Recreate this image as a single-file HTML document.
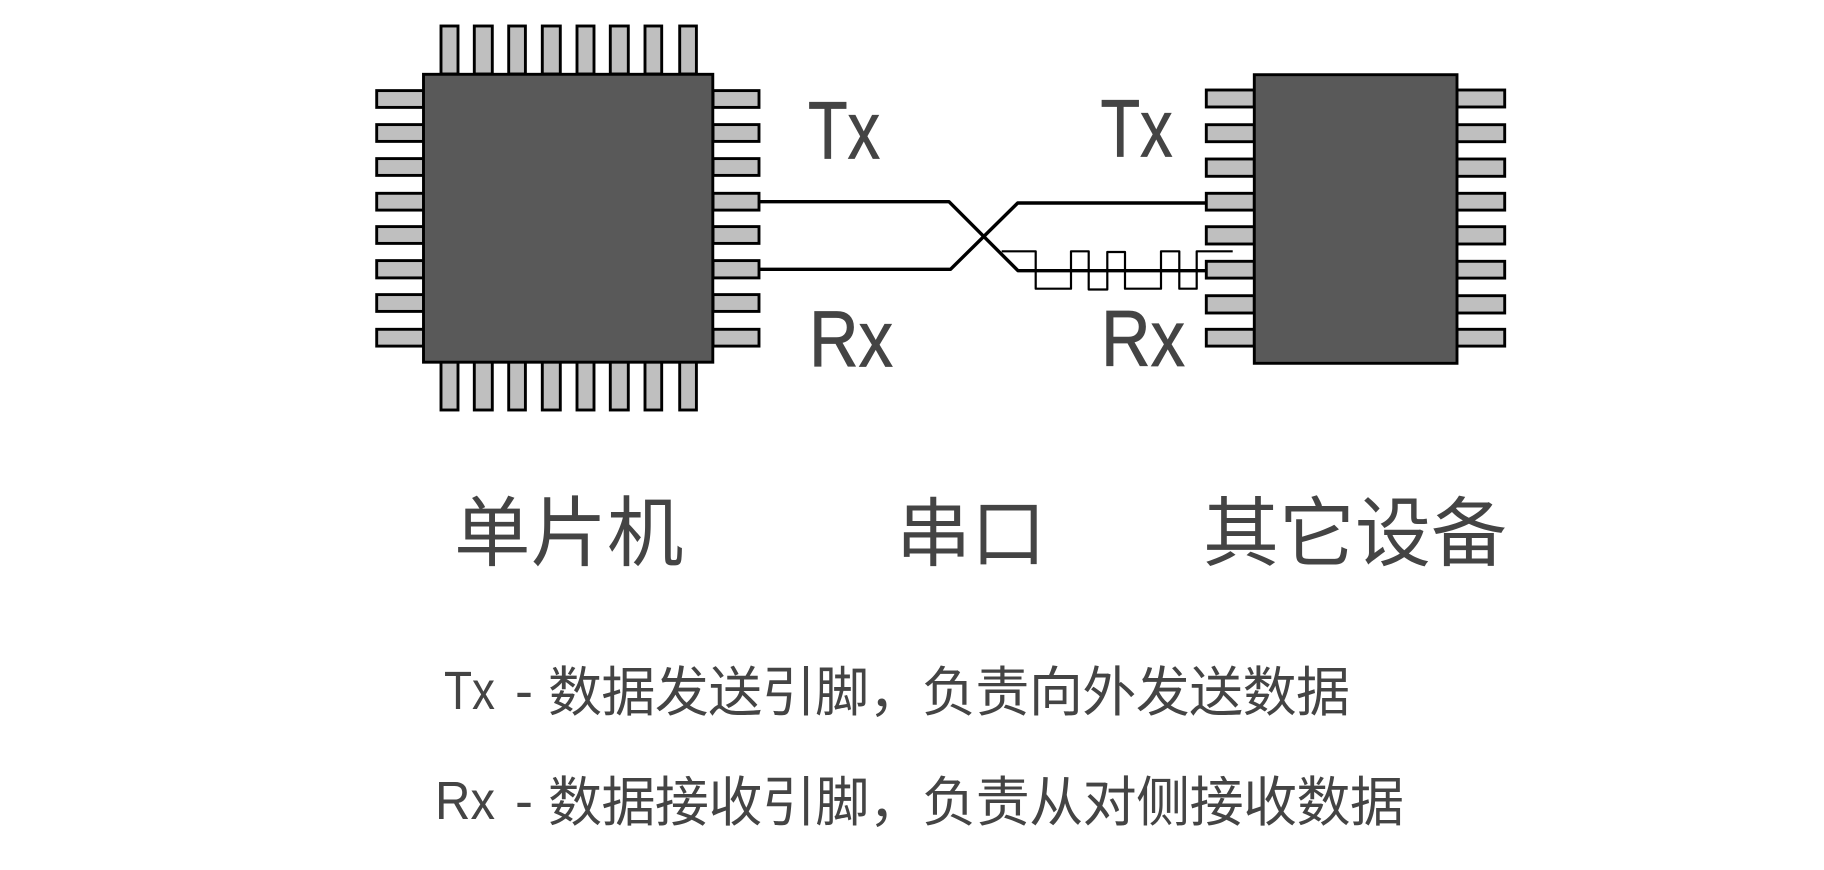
<!DOCTYPE html>
<html lang="zh"><head><meta charset="utf-8"><title>串口</title>
<style>html,body{margin:0;padding:0;background:#fff}svg{display:block}
.l{font-family:"Liberation Sans",sans-serif;fill:#444}
.c{font-family:"Liberation Sans","Noto Sans CJK SC",sans-serif;fill:#444}</style></head><body>
<svg width="1824" height="870" viewBox="0 0 1824 870" xmlns="http://www.w3.org/2000/svg">
<rect width="1824" height="870" fill="#fff"/>
<g fill="#bfbfbf" stroke="#000" stroke-width="2.9">
<rect x="441" y="26" width="17" height="48"/><rect x="474.3" y="26" width="18" height="48"/><rect x="508.7" y="26" width="16.7" height="48"/><rect x="542.3" y="26" width="18" height="48"/><rect x="577" y="26" width="17" height="48"/><rect x="610.3" y="26" width="18" height="48"/><rect x="645" y="26" width="16.7" height="48"/><rect x="679.7" y="26" width="16.7" height="48"/>
<rect x="441" y="362" width="17" height="48"/><rect x="474.3" y="362" width="18" height="48"/><rect x="508.7" y="362" width="16.7" height="48"/><rect x="542.3" y="362" width="18" height="48"/><rect x="577" y="362" width="17" height="48"/><rect x="610.3" y="362" width="18" height="48"/><rect x="645" y="362" width="16.7" height="48"/><rect x="679.7" y="362" width="16.7" height="48"/>
<rect x="376.7" y="90.600" width="47" height="16.8"/><rect x="376.7" y="124.600" width="47" height="16.8"/><rect x="376.7" y="158.600" width="47" height="16.8"/><rect x="376.7" y="193.300" width="47" height="16.8"/><rect x="376.7" y="226.600" width="47" height="16.8"/><rect x="376.7" y="260.600" width="47" height="17.3"/><rect x="376.7" y="294.600" width="47" height="16.8"/><rect x="376.7" y="329.300" width="47" height="16.8"/>
<rect x="713" y="90.600" width="46" height="16.8"/><rect x="713" y="124.600" width="46" height="16.8"/><rect x="713" y="158.600" width="46" height="16.8"/><rect x="713" y="193.300" width="46" height="16.8"/><rect x="713" y="226.600" width="46" height="16.8"/><rect x="713" y="260.600" width="46" height="17.3"/><rect x="713" y="294.600" width="46" height="16.8"/><rect x="713" y="329.300" width="46" height="16.8"/>
<rect x="1206.3" y="90" width="48" height="17"/><rect x="1206.3" y="124.700" width="48" height="17"/><rect x="1206.3" y="159" width="48" height="17.3"/><rect x="1206.3" y="193.300" width="48" height="16.8"/><rect x="1206.3" y="226.700" width="48" height="17.3"/><rect x="1206.3" y="261.300" width="48" height="16.8"/><rect x="1206.3" y="295.700" width="48" height="17.3"/><rect x="1206.3" y="329.300" width="48" height="16.8"/>
<rect x="1457" y="90" width="47.7" height="17"/><rect x="1457" y="124.700" width="47.7" height="17"/><rect x="1457" y="159" width="47.7" height="17.3"/><rect x="1457" y="193.300" width="47.7" height="16.8"/><rect x="1457" y="226.700" width="47.7" height="17.3"/><rect x="1457" y="261.300" width="47.7" height="16.8"/><rect x="1457" y="295.700" width="47.7" height="17.3"/><rect x="1457" y="329.300" width="47.7" height="16.8"/>
</g>
<g fill="#595959" stroke="#000" stroke-width="2.9">
<rect x="423.5" y="74.3" width="289.3" height="287.9"/>
<rect x="1254.3" y="74.7" width="202.7" height="288.6"/>
</g>
<g fill="none" stroke="#000" stroke-linejoin="round">
<path d="M760 201.7H949L1018 270.7H1205.5" stroke-width="3.4"/>
<path d="M760 269.3H950.5L1017.7 203H1205.5" stroke-width="3.4"/>
<path d="M1001.7 251.3H1035.7V288.7H1071V251.3H1088.7V289.5H1107.3V252H1125V288.7H1161V251.3H1179.3V288.7H1196.7V251.3H1232.7" stroke-width="2.2"/>
</g>
<text class="l" x="808" y="158.3" font-size="82" textLength="72" lengthAdjust="spacingAndGlyphs" stroke="#444" stroke-width=".8">Tx</text>
<text class="l" x="1100.500" y="156.700" font-size="82" textLength="72" lengthAdjust="spacingAndGlyphs" stroke="#444" stroke-width=".8">Tx</text>
<text class="l" x="809" y="366.700" font-size="80" textLength="84" lengthAdjust="spacingAndGlyphs" stroke="#444" stroke-width=".8">Rx</text>
<text class="l" x="1101" y="366" font-size="80" textLength="84" lengthAdjust="spacingAndGlyphs" stroke="#444" stroke-width=".8">Rx</text>
<text class="c" x="454" y="560" font-size="76.500">单片机</text>
<text class="c" x="896" y="560" font-size="75">串口</text>
<text class="c" x="1203" y="560" font-size="76">其它设备</text>
<text class="l" x="444" y="709" font-size="54" textLength="51" lengthAdjust="spacingAndGlyphs">Tx</text>
<text class="l" x="515" y="709" font-size="54" textLength="18" lengthAdjust="spacingAndGlyphs">-</text>
<text class="c" x="548" y="711" font-size="54" textLength="802">数据发送引脚，负责向外发送数据</text>
<text class="l" x="435" y="819" font-size="54" textLength="60" lengthAdjust="spacingAndGlyphs">Rx</text>
<text class="l" x="515" y="819" font-size="54" textLength="18" lengthAdjust="spacingAndGlyphs">-</text>
<text class="c" x="548" y="821" font-size="54" textLength="856">数据接收引脚，负责从对侧接收数据</text>
</svg>
</body></html>
